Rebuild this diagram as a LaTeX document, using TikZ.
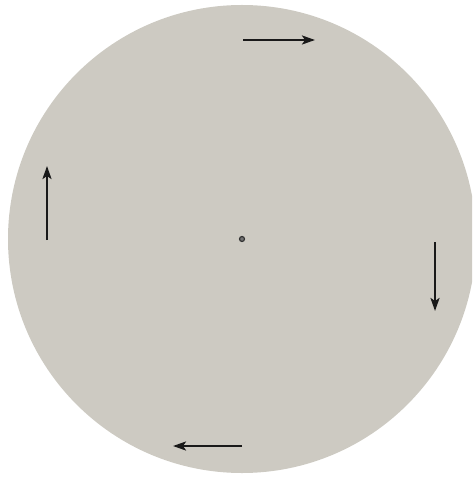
\documentclass[tikz,border=0pt]{standalone}
\usepackage{xcolor}
\usepackage{tikz}
\usetikzlibrary{arrows.meta, positioning}

\definecolor{diskgray}{RGB}{205,202,194}

\begin{document}
\begin{tikzpicture}[
    x=1pt, y=-1pt,
    >={Stealth[length=13pt, width=9pt, inset=3pt]},
    flow/.style={->, line width=2.2pt, black!90},
    hub/.style={circle, draw=black!80, fill=black!55, line width=1.2pt, inner sep=0pt, minimum size=5pt},
]
    \useasboundingbox (0,0) rectangle (472,478);
    \clip (0,0) rectangle (472,478);
    \fill[diskgray] (242,239) circle (234);

    \node[hub] (center) at (242,239) {};

    \coordinate (topA) at (243,40);
    \coordinate (topB) at (315,40);
    \coordinate (rightA) at (435,242);
    \coordinate (rightB) at (435,311);
    \coordinate (botA) at (242,446);
    \coordinate (botB) at (173,446);
    \coordinate (leftA) at (47,240);
    \coordinate (leftB) at (47,166);

    \draw[flow] (topA) -- (topB);
    \draw[flow] (rightA) -- (rightB);
    \draw[flow] (botA) -- (botB);
    \draw[flow] (leftA) -- (leftB);
\end{tikzpicture}
\end{document}
